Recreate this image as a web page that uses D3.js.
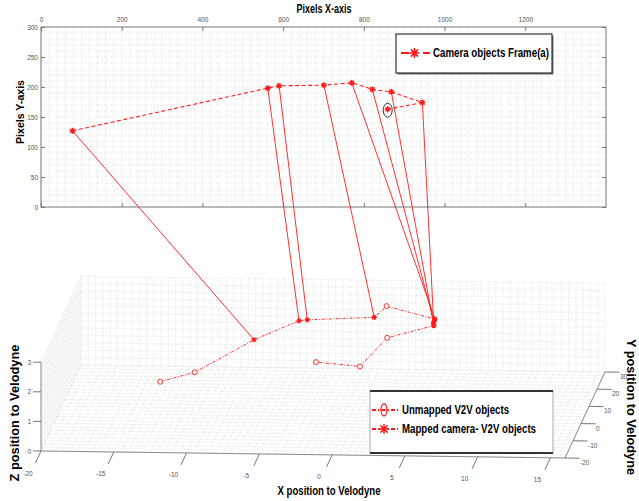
<!DOCTYPE html>
<html>
<head>
<meta charset="utf-8">
<script src="https://cdn.jsdelivr.net/npm/d3@7"></script>
<style>
  body { margin: 0; background: #fff; }
  svg { display: block; }
  text { font-family: "Liberation Sans", Arial, sans-serif; }
</style>
</head>
<body>
<svg id="chart" width="639" height="501"></svg>
<script>
// Camera detections of frame (a), in image pixel coordinates
const cameraX = [78, 562, 590, 701, 770, 821, 868, 945, 859];
const cameraY = [127, 198, 202, 203, 207, 196, 192, 174, 163];
// V2V object each detection is matched to (-1: no match)
const cameraMatch = [2, 3, 4, 5, 7, 8, 9, 10, -1];

// V2V objects, position relative to the Velodyne
const v2vX = [-12.18, -10.13, -7.11, -4.64, -4.11, 0.39, 1.35, 5.06, 5.07, 5.10, 5.19, 1.92, 0.97, -2.17];
const v2vY = [-13.26, -7.57, 11.71, 23.03, 23.67, 25.57, 23.60, 16.49, 15.04, 13.88, 12.72, 13.88, -2.86, -0.71];
const v2vZ = [2.0, 2.0, 2.0, 2.0, 2.0, 2.0, 2.5, 2.5, 2.5, 2.5, 2.5, 2.0, 2.0, 2.0];
const v2vMapped = [false, false, true, true, true, true, false, true, true, true, true, false, false, false];

// Axis ticks
const pixXTicks = [0, 200, 400, 600, 800, 1000, 1200];
const pixYTicks = [0, 50, 100, 150, 200, 250, 300];
const velXTicks = [-20, -15, -10, -5, 0, 5, 10, 15];
const velYTicks = [-20, -10, 0, 10, 20, 30];
const velZTicks = [0, 1, 2, 3];

const RED = "#ff1a1a";
const svg = d3.select("#chart");

// ---------- image-plane panel ----------
const px = d3.scaleLinear().domain([0, 1400]).range([41, 606]);
const py = d3.scaleLinear().domain([0, 300]).range([207, 27]);

const gTop = svg.append("g");
const gridStyle = s => s.attr("stroke", "#dcdcdc").attr("stroke-width", 0.8).attr("stroke-dasharray", "1,1.5");

gTop.selectAll("line.gx").data(d3.range(20, 1400, 20)).join("line")
  .attr("x1", d => px(d)).attr("x2", d => px(d)).attr("y1", py(0)).attr("y2", py(300))
  .call(gridStyle);
gTop.selectAll("line.gy").data(d3.range(10, 300, 10)).join("line")
  .attr("y1", d => py(d)).attr("y2", d => py(d)).attr("x1", px(0)).attr("x2", px(1400))
  .call(gridStyle);

gTop.append("rect").attr("x", px(0)).attr("y", py(300))
  .attr("width", px(1400) - px(0)).attr("height", py(0) - py(300))
  .attr("fill", "none").attr("stroke", "#8a8a8a").attr("stroke-width", 1.2);

const tickFont = s => s.selectAll("text").attr("font-size", 6.5).attr("fill", "#555")
  .attr("font-family", "Liberation Sans, Arial, sans-serif");
const tickLine = s => { s.select(".domain").remove(); s.selectAll("line").attr("stroke", "#777"); };

gTop.append("g").attr("transform", `translate(0,${py(300)})`)
  .call(d3.axisTop(px).tickValues(pixXTicks).tickSize(-4).tickPadding(5).tickFormat(d3.format("d")))
  .call(tickLine).call(tickFont);
gTop.append("g").attr("transform", `translate(0,${py(0)})`)
  .call(d3.axisBottom(px).tickValues(pixXTicks).tickSize(-4).tickFormat(""))
  .call(tickLine);
gTop.append("g").attr("transform", `translate(${px(0)},0)`)
  .call(d3.axisLeft(py).tickValues(pixYTicks).tickSize(-4).tickPadding(3).tickFormat(d3.format("d")))
  .call(tickLine).call(tickFont);
gTop.append("g").attr("transform", `translate(${px(1400)},0)`)
  .call(d3.axisRight(py).tickValues(pixYTicks).tickSize(-4).tickFormat(""))
  .call(tickLine);

// ---------- 3-D Velodyne panel (fixed oblique view) ----------
const ox = 41, oy = 451;
const vxH = d3.scaleLinear().domain([-20, 16]).range([0, 524]);
const vxV = d3.scaleLinear().domain([-20, 16]).range([0, 7]);
const vyH = d3.scaleLinear().domain([-20, 30]).range([0, 40]);
const vyV = d3.scaleLinear().domain([-20, 30]).range([0, -86]);
const vz = d3.scaleLinear().domain([0, 3]).range([0, -88.8]);
const proj = (x, y, z) => [ox + vxH(x) + vyH(y), oy + vxV(x) + vyV(y) + vz(z)];

const g3 = svg.append("g");
const seg = (a, b) => ({ a, b });
const gridSegs = [];
// floor (z = 0)
d3.range(-20, 16.001, 0.5).forEach(x => gridSegs.push(seg(proj(x, -20, 0), proj(x, 30, 0))));
d3.range(-20, 30.001, 2).forEach(y => gridSegs.push(seg(proj(-20, y, 0), proj(16, y, 0))));
// back wall (y = 30)
d3.range(-20, 16.001, 0.5).forEach(x => gridSegs.push(seg(proj(x, 30, 0), proj(x, 30, 3))));
d3.range(0, 3.001, 0.25).forEach(z => gridSegs.push(seg(proj(-20, 30, z), proj(16, 30, z))));
// side wall (x = -20)
d3.range(-20, 30.001, 2).forEach(y => gridSegs.push(seg(proj(-20, y, 0), proj(-20, y, 3))));
d3.range(0, 3.001, 0.25).forEach(z => gridSegs.push(seg(proj(-20, -20, z), proj(-20, 30, z))));

g3.selectAll("line.grid").data(gridSegs).join("line")
  .attr("x1", d => d.a[0]).attr("y1", d => d.a[1]).attr("x2", d => d.b[0]).attr("y2", d => d.b[1])
  .call(gridStyle);

// axis lines
const axisSegs = [
  seg(proj(-20, -20, 0), proj(16, -20, 0)),
  seg(proj(16, -20, 0), proj(16, 30, 0)),
  seg(proj(-20, -20, 0), proj(-20, -20, 3))
];
g3.selectAll("line.ax").data(axisSegs).join("line")
  .attr("x1", d => d.a[0]).attr("y1", d => d.a[1]).attr("x2", d => d.b[0]).attr("y2", d => d.b[1])
  .attr("stroke", "#8a8a8a").attr("stroke-width", 1);

// X ticks
velXTicks.forEach(t => {
  const b = proj(t, -20, 0), e = proj(t, -27, 0);
  g3.append("line").attr("x1", b[0]).attr("y1", b[1]).attr("x2", e[0]).attr("y2", e[1])
    .attr("stroke", "#777");
  g3.append("text").attr("x", b[0] - 13).attr("y", b[1] + 24.5).attr("text-anchor", "middle")
    .attr("font-size", 6.5).attr("fill", "#555").text(t);
});
// Y ticks
velYTicks.forEach(t => {
  const b = proj(16, t, 0), e = proj(17, t, 0);
  g3.append("line").attr("x1", b[0]).attr("y1", b[1]).attr("x2", e[0]).attr("y2", e[1])
    .attr("stroke", "#777");
  g3.append("text").attr("x", b[0] + 15).attr("y", b[1] + 7).attr("text-anchor", "start")
    .attr("font-size", 6.5).attr("fill", "#555").text(t);
});
// Z ticks
velZTicks.forEach(t => {
  const b = proj(-20, -20, t);
  g3.append("line").attr("x1", b[0]).attr("y1", b[1]).attr("x2", b[0] - 8).attr("y2", b[1])
    .attr("stroke", "#777");
  g3.append("text").attr("x", b[0] - 10).attr("y", b[1] + 2.5).attr("text-anchor", "end")
    .attr("font-size", 6.5).attr("fill", "#555").text(t);
});

// ---------- markers ----------
function starPath(s) {
  const a = s * 0.72;
  return `M${-s},0L${s},0M0,${-s}L0,${s}M${-a},${-a}L${a},${a}M${-a},${a}L${a},${-a}`;
}

const camPts = cameraX.map((x, i) => [px(x), py(cameraY[i])]);
const v2vPts = v2vX.map((x, i) => proj(x, v2vY[i], v2vZ[i]));

// camera-to-V2V correspondences
const links = cameraMatch.map((m, i) => ({ m, i })).filter(d => d.m >= 0);
svg.append("g").selectAll("line").data(links).join("line")
  .attr("x1", d => camPts[d.i][0]).attr("y1", d => camPts[d.i][1])
  .attr("x2", d => v2vPts[d.m][0]).attr("y2", d => v2vPts[d.m][1])
  .attr("stroke", RED).attr("stroke-width", 0.9);

// camera objects (dashed)
const line = d3.line();
svg.append("path").attr("d", line(camPts)).attr("fill", "none")
  .attr("stroke", RED).attr("stroke-width", 1.1).attr("stroke-dasharray", "4,2.5");
svg.append("g").selectAll("path").data(camPts).join("path")
  .attr("transform", d => `translate(${d[0]},${d[1]})`).attr("d", starPath(3))
  .attr("stroke", RED).attr("stroke-width", 1.3).attr("fill", "none");

// unmatched detection highlight
const last = camPts[cameraMatch.indexOf(-1)];
svg.append("ellipse").attr("cx", last[0]).attr("cy", last[1] + 1).attr("rx", 4.5).attr("ry", 7)
  .attr("fill", "none").attr("stroke", "#333").attr("stroke-width", 1);

// V2V objects (dash-dot)
svg.append("path").attr("d", line(v2vPts)).attr("fill", "none")
  .attr("stroke", RED).attr("stroke-width", 0.9).attr("stroke-dasharray", "3,1.5,1,1.5");
svg.append("g").selectAll("circle").data(v2vPts.filter((d, i) => !v2vMapped[i])).join("circle")
  .attr("cx", d => d[0]).attr("cy", d => d[1]).attr("r", 2.5)
  .attr("fill", "#fff").attr("stroke", RED).attr("stroke-width", 0.9);
svg.append("g").selectAll("path").data(v2vPts.filter((d, i) => v2vMapped[i])).join("path")
  .attr("transform", d => `translate(${d[0]},${d[1]})`).attr("d", starPath(2.6))
  .attr("stroke", RED).attr("stroke-width", 1.2).attr("fill", "none");

// ---------- axis titles ----------
const boldText = (x, y, str, size, len, rot, fam) => {
  const t = svg.append("text").attr("font-size", size).attr("font-weight", "bold")
    .attr("fill", "#000").attr("text-anchor", "middle")
    .attr("font-family", fam || "Lato, 'Liberation Sans', sans-serif")
    .attr("textLength", len).attr("lengthAdjust", "spacingAndGlyphs").text(str);
  if (rot) t.attr("transform", `translate(${x},${y}) rotate(${rot})`);
  else t.attr("x", x).attr("y", y);
  return t;
};
boldText(324, 12.5, "Pixels X-axis", 12, 55);
boldText(24, 112, "Pixels Y-axis", 11, 64, -90, "'Liberation Sans', Arial, sans-serif");
boldText(19, 413, "Z position to Velodyne", 12.5, 137, -90, "'Liberation Sans', Arial, sans-serif");
boldText(627, 407, "Y position to Velodyne", 12, 136, 90, "'Liberation Sans', Arial, sans-serif");
boldText(329, 495, "X position to Velodyne", 13, 103);

// ---------- legends ----------
// camera legend
svg.append("rect").attr("x", 397.5).attr("y", 35.5).attr("width", 156).attr("height", 39).attr("fill", "#777");
svg.append("rect").attr("x", 396).attr("y", 34).attr("width", 156).attr("height", 39)
  .attr("fill", "#fff").attr("stroke", "#222").attr("stroke-width", 1.1);
svg.append("line").attr("x1", 401).attr("x2", 430).attr("y1", 53).attr("y2", 53)
  .attr("stroke", RED).attr("stroke-width", 2).attr("stroke-dasharray", "8,14,8");
svg.append("path").attr("transform", "translate(414.5,53)").attr("d", starPath(5))
  .attr("stroke", RED).attr("stroke-width", 1.6).attr("fill", "none");
svg.append("text").attr("x", 433).attr("y", 57).attr("font-size", 13).attr("font-weight", "bold")
  .attr("font-family", "Lato, 'Liberation Sans', sans-serif")
  .attr("textLength", 116).attr("lengthAdjust", "spacingAndGlyphs").text("Camera objects Frame(a)");

// V2V legend
svg.append("rect").attr("x", 370).attr("y", 391).attr("width", 183).attr("height", 62)
  .attr("fill", "#fff").attr("stroke", "#999").attr("stroke-width", 0.8);
[391, 453].forEach(y => svg.append("line").attr("x1", 370).attr("x2", 553).attr("y1", y).attr("y2", y)
  .attr("stroke", "#333").attr("stroke-width", 2));

const legendRows = [
  { y: 410, label: "Unmapped V2V objects", len: 107, mapped: false },
  { y: 429, label: "Mapped camera- V2V objects", len: 134, mapped: true }
];
legendRows.forEach(r => {
  svg.append("line").attr("x1", 372).attr("x2", 398).attr("y1", r.y).attr("y2", r.y)
    .attr("stroke", RED).attr("stroke-width", 1.8).attr("stroke-dasharray", "4,2,1.5,2");
  if (r.mapped) {
    svg.append("path").attr("transform", `translate(384,${r.y})`).attr("d", starPath(5))
      .attr("stroke", RED).attr("stroke-width", 1.5).attr("fill", "none");
  } else {
    svg.append("ellipse").attr("cx", 384).attr("cy", r.y).attr("rx", 3).attr("ry", 6)
      .attr("fill", "none").attr("stroke", RED).attr("stroke-width", 1.3);
  }
  svg.append("text").attr("x", 402).attr("y", r.y + 4).attr("font-size", 12.5).attr("font-weight", "bold")
    .attr("font-family", "Lato, 'Liberation Sans', sans-serif")
    .attr("textLength", r.len).attr("lengthAdjust", "spacingAndGlyphs").text(r.label);
});
</script>
</body>
</html>
